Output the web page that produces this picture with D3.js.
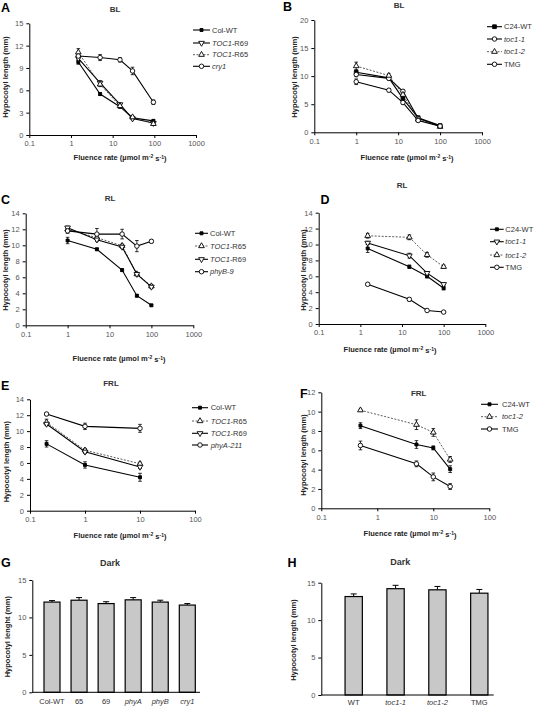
<!DOCTYPE html>
<html><head><meta charset="utf-8">
<script src="https://cdn.jsdelivr.net/npm/d3@7"></script>
<style>
body{margin:0;background:#fff}
svg{display:block;font-family:"Liberation Sans",Arial,Helvetica,sans-serif}
</style>
</head><body>
<svg id="c" width="544" height="708"></svg>
<script>
// ---------------- DATA ----------------
// Panel A: BL, Col background
const aX = [1.5, 5, 15, 30, 95];
const aColWT = [9.8, 5.5, 3.8, 2.3, 1.9];
const aR69 = [10.3, 7.0, 4.1, 2.2, 1.6];
const aR65 = [11.1, 6.8, 3.9, 2.4, 1.5];
const aCry1 = [10.6, 10.4, 10.1, 8.6, 4.4];
const aErrColWT = [0.3, 0.2, 0.2, 0.15, 0.15];
const aErrR69 = [0.3, 0.3, 0.2, 0.15, 0.15];
const aErrR65 = [0.5, 0.3, 0.2, 0.15, 0.15];
const aErrCry1 = [0.3, 0.4, 0.3, 0.5, 0.3];

// Panel B: BL, C24 background
const bX = [1, 6, 13, 30, 100];
const bC24WT = [10.7, 9.7, 6.0, 2.6, 1.2];
const bToc11 = [10.3, 9.6, 7.3, 2.5, 1.1];
const bToc12 = [11.8, 10.1, 6.7, 2.3, 1.0];
const bTMG = [9.0, 7.5, 5.3, 2.1, 1.1];
const bErrC24WT = [0.4, 0.3, 0.3, 0.2, 0.1];
const bErrToc11 = [0.4, 0.3, 0.3, 0.2, 0.1];
const bErrToc12 = [0.7, 0.3, 0.3, 0.2, 0.1];
const bErrTMG = [0.5, 0.3, 0.3, 0.2, 0.1];

// Panel C: RL, Col background
const cX = [1, 5, 20, 45, 100];
const cColWT = [10.6, 9.5, 6.9, 3.7, 2.5];
const cR65 = [12.0, 10.95, 9.95, 6.4, 4.9];
const cR69 = [12.2, 10.7, 9.8, 6.4, 4.8];
const cPhyB9 = [11.8, 11.4, 11.4, 9.9, 10.5];
const cErrColWT = [0.4, 0.15, 0.15, 0.15, 0.1];
const cErrR65 = [0.3, 0.2, 0.2, 0.2, 0.2];
const cErrR69 = [0.2, 0.2, 0.2, 0.2, 0.2];
const cErrPhyB9 = [0.3, 0.7, 0.6, 0.7, 0.2];

// Panel D: RL, C24 background
const dX = [1.5, 15, 40, 100];
const dC24WT = [9.5, 7.2, 6.0, 4.5];
const dToc11 = [10.2, 8.6, 6.4, 5.0];
const dToc12 = [11.1, 10.9, 8.7, 7.2];
const dTMG = [5.0, 3.1, 1.7, 1.5];
const dErrC24WT = [0.5, 0.2, 0.2, 0.2];
const dErrToc11 = [0.2, 0.3, 0.2, 0.2];
const dErrToc12 = [0.3, 0.3, 0.3, 0.2];
const dErrTMG = [0.15, 0.2, 0.15, 0.1];

// Panel E: FRL, Col background
const eX = [0.2, 1, 10];
const eColWT = [8.4, 5.75, 4.2];
const eR65 = [11.1, 7.6, 5.9];
const eR69 = [10.9, 7.4, 5.5];
const ePhyA211 = [12.15, 10.6, 10.35];
const eErrColWT = [0.4, 0.4, 0.5];
const eErrR65 = [0.4, 0.2, 0.2];
const eErrR69 = [0.2, 0.2, 0.2];
const eErrPhyA211 = [0.2, 0.4, 0.5];

// Panel F: FRL, C24 background
const fX = [0.5, 5, 10, 20];
const fC24WT = [8.55, 6.6, 6.25, 4.05];
const fToc12 = [10.15, 8.65, 7.85, 5.05];
const fTMG = [6.5, 4.6, 3.25, 2.25];
const fErrC24WT = [0.3, 0.4, 0.2, 0.35];
const fErrToc12 = [0.1, 0.5, 0.4, 0.3];
const fErrTMG = [0.45, 0.3, 0.4, 0.3];

// Panel G: Dark, Col background
const gCats = ["Col-WT", "65", "69", "*phyA*", "*phyB*", "*cry1*"];
const gVals = [12.05, 12.3, 11.85, 12.35, 12.05, 11.65];
const gErr = [0.2, 0.35, 0.25, 0.3, 0.25, 0.2];

// Panel H: Dark, C24 background
const hCats = ["WT", "*toc1-1*", "*toc1-2*", "TMG"];
const hVals = [13.15, 14.2, 14.05, 13.6];
const hErr = [0.35, 0.45, 0.45, 0.5];

// Tick labels
const xTicksWide = [0.1, 1, 10, 100, 1000];
const xTicksNarrow = [0.1, 1, 10, 100];
const yTicks15by3 = [0, 3, 6, 9, 12, 15];
const yTicks20by5 = [0, 5, 10, 15, 20];
const yTicks14by2 = [0, 2, 4, 6, 8, 10, 12, 14];
const yTicks12by2 = [0, 2, 4, 6, 8, 10, 12];
const yTicks15by5 = [0, 5, 10, 15];

// ---------------- DRAWING ----------------
const svg = d3.select("#c");
const TICK_COL = "#555";
const LAB_COL = "#222";

function rich(sel, str) {
  str.split("*").forEach((p, i) => {
    if (!p) return;
    sel.append("tspan").text(p).attr("font-style", i % 2 ? "italic" : "normal");
  });
}

const sym = {
  filled: {type: d3.symbolSquare, size: 9, fill: "#000", rot: 0},
  filledBig: {type: d3.symbolSquare, size: 14, fill: "#000", rot: 0},
  up: {type: d3.symbolTriangle, size: 14, fill: "#fff", rot: 0},
  down: {type: d3.symbolTriangle, size: 14, fill: "#fff", rot: 180},
  circle: {type: d3.symbolCircle, size: 16, fill: "#fff", rot: 0}
};

function drawMarker(g, kind, cx, cy) {
  const s = sym[kind];
  g.append("path")
    .attr("d", d3.symbol().type(s.type).size(s.size)())
    .attr("transform", `translate(${cx},${cy}) rotate(${s.rot})`)
    .attr("fill", s.fill).attr("stroke", "#000").attr("stroke-width", 0.9);
}

function styleAxis(a) {
  a.select(".domain").attr("stroke", "#000").attr("stroke-width", 1);
  a.selectAll(".tick line").attr("stroke", "#000");
  a.selectAll(".tick text").attr("fill", TICK_COL).attr("font-size", 7.5)
    .attr("font-family", "'Liberation Sans',Arial,sans-serif");
}

function panelText(p) {
  svg.append("text").attr("x", p.letterX).attr("y", p.letterY)
    .attr("font-size", 12.5).attr("font-weight", "bold").attr("fill", "#000").text(p.letter);
  svg.append("text").attr("x", p.titleX).attr("y", p.titleY).attr("text-anchor", "middle")
    .attr("dy", "0.35em").attr("font-size", p.titleSize || 8).attr("font-weight", "bold")
    .attr("fill", "#333").text(p.title);
  svg.append("text").attr("transform", `translate(${p.yLabX},${p.yLabY}) rotate(-90)`)
    .attr("text-anchor", "middle").attr("dy", "0.35em").attr("font-size", 7.5)
    .attr("font-weight", "bold").attr("fill", LAB_COL).text(p.yLab);
  if (p.xLabX != null) {
    const t = svg.append("text").attr("x", p.xLabX).attr("y", p.xLabY).attr("text-anchor", "middle")
      .attr("dy", "0.35em").attr("font-size", 7.5).attr("font-weight", "bold").attr("fill", LAB_COL);
    t.append("tspan").text("Fluence rate (µmol m");
    t.append("tspan").text("-2").attr("font-size", 5).attr("dy", "-0.35em");
    t.append("tspan").text(" s").attr("dy", "0.35em");
    t.append("tspan").text("-1").attr("font-size", 5).attr("dy", "-0.35em");
    t.append("tspan").text(")").attr("dy", "0.35em");
  }
}

function linePanel(p) {
  const x = d3.scaleLog().domain(p.xDomain).range([p.x0, p.x1]);
  const y = d3.scaleLinear().domain([0, p.yMax]).range([p.y0, p.y1]);
  const g = svg.append("g");
  const ax = g.append("g").attr("transform", `translate(0,${p.y0})`)
    .call(d3.axisBottom(x).tickValues(p.xTicks).tickFormat(d => String(d)).tickSize(3).tickSizeOuter(0).tickPadding(3));
  styleAxis(ax);
  const ay = g.append("g").attr("transform", `translate(${p.x0},0)`)
    .call(d3.axisLeft(y).tickValues(p.yTicks).tickSize(3).tickSizeOuter(0).tickPadding(3));
  styleAxis(ay);

  const line = d3.line().x(d => x(d[0])).y(d => y(d[1]));
  p.series.forEach(s => {
    const pts = s.xs.map((xv, i) => [xv, s.vals[i], s.err[i]]);
    g.append("path").datum(pts).attr("d", line).attr("fill", "none")
      .attr("stroke", s.dash ? "#333" : "#000").attr("stroke-width", s.dash ? 0.8 : 1.1)
      .attr("stroke-dasharray", s.dash ? "2,1.5" : null);
    pts.forEach(d => {
      const cx = x(d[0]);
      g.append("line").attr("x1", cx).attr("x2", cx).attr("y1", y(d[1] - d[2])).attr("y2", y(d[1] + d[2]))
        .attr("stroke", "#000").attr("stroke-width", 0.8);
      [d[1] - d[2], d[1] + d[2]].forEach(v => {
        g.append("line").attr("x1", cx - 1.8).attr("x2", cx + 1.8).attr("y1", y(v)).attr("y2", y(v))
          .attr("stroke", "#000").attr("stroke-width", 0.8);
      });
    });
  });
  p.series.forEach(s => {
    s.xs.forEach((xv, i) => drawMarker(g, s.marker, x(xv), y(s.vals[i])));
  });
  p.series.forEach((s, i) => {
    const ry = p.legY[i];
    g.append("line").attr("x1", p.legX0).attr("x2", p.legX1).attr("y1", ry).attr("y2", ry)
      .attr("stroke", s.dash ? "#333" : "#000").attr("stroke-width", s.dash ? 0.8 : 1.1)
      .attr("stroke-dasharray", s.dash ? "2,1.5" : null);
    drawMarker(g, s.marker, (p.legX0 + p.legX1) / 2, ry);
    const t = g.append("text").attr("x", p.legTX).attr("y", ry).attr("dy", "0.35em")
      .attr("font-size", 7.5).attr("fill", "#333");
    rich(t, s.name);
  });
  panelText(p);
}

function barPanel(p) {
  const x = d3.scalePoint().domain(p.cats).range([p.c0, p.c1]);
  const y = d3.scaleLinear().domain([0, 15]).range([p.y0, p.y1]);
  const g = svg.append("g");
  p.cats.forEach((c, i) => {
    const cx = x(c), v = p.vals[i], e = p.err[i];
    g.append("line").attr("x1", cx).attr("x2", cx).attr("y1", y(v)).attr("y2", y(v + e))
      .attr("stroke", "#000").attr("stroke-width", 1);
    g.append("line").attr("x1", cx - 3).attr("x2", cx + 3).attr("y1", y(v + e)).attr("y2", y(v + e))
      .attr("stroke", "#000").attr("stroke-width", 1);
    g.append("rect").attr("x", cx - p.bw / 2).attr("y", y(v)).attr("width", p.bw).attr("height", y(0) - y(v))
      .attr("fill", "#c8c8c8").attr("stroke", "#000").attr("stroke-width", 1.2);
    const t = g.append("text").attr("x", cx).attr("y", p.y0 + p.labOff).attr("text-anchor", "middle")
      .attr("dy", "0.35em").attr("font-size", 7.5).attr("fill", "#333");
    rich(t, c);
  });
  g.append("line").attr("x1", p.x0).attr("x2", p.x1).attr("y1", p.y0).attr("y2", p.y0)
    .attr("stroke", "#000").attr("stroke-width", 1);
  const ay = g.append("g").attr("transform", `translate(${p.x0},0)`)
    .call(d3.axisLeft(y).tickValues(yTicks15by5).tickSize(3).tickSizeOuter(0).tickPadding(3));
  styleAxis(ay);
  panelText(p);
}

const mk = (name, xs, vals, err, marker, dash) => ({name, xs, vals, err, marker, dash});

// A
linePanel({
  x0: 29.3, x1: 196, y0: 135, y1: 23.3, xDomain: [0.1, 1000], yMax: 15,
  xTicks: xTicksWide, yTicks: yTicks15by3,
  series: [
    mk("Col-WT", aX, aColWT, aErrColWT, "filled", false),
    mk("*TOC1*-R69", aX, aR69, aErrR69, "down", false),
    mk("*TOC1*-R65", aX, aR65, aErrR65, "up", true),
    mk("*cry1*", aX, aCry1, aErrCry1, "circle", false)
  ],
  legX0: 193, legX1: 210, legTX: 212, legY: [30, 43, 54.7, 66.3],
  letter: "A", letterX: 1, letterY: 12, title: "BL", titleX: 115, titleY: 9,
  yLab: "Hypocotyl length (mm)", yLabX: 5, yLabY: 77, xLabX: 120, xLabY: 157
});

// B
linePanel({
  x0: 314.3, x1: 482, y0: 132.3, y1: 20, xDomain: [0.1, 1000], yMax: 20,
  xTicks: xTicksWide, yTicks: yTicks20by5,
  series: [
    mk("C24-WT", bX, bC24WT, bErrC24WT, "filledBig", false),
    mk("*toc1-1*", bX, bToc11, bErrToc11, "circle", false),
    mk("*toc1-2*", bX, bToc12, bErrToc12, "up", true),
    mk("TMG", bX, bTMG, bErrTMG, "circle", false)
  ],
  legX0: 487, legX1: 502, legTX: 504, legY: [26.7, 39, 51.7, 64.3],
  letter: "B", letterX: 283, letterY: 11, title: "BL", titleX: 399, titleY: 5,
  yLab: "Hypocotyl length (mm)", yLabX: 294, yLabY: 77, xLabX: 407, xLabY: 157
});

// C
linePanel({
  x0: 25.7, x1: 193.3, y0: 325.3, y1: 213.3, xDomain: [0.1, 1000], yMax: 14,
  xTicks: xTicksWide, yTicks: yTicks14by2,
  series: [
    mk("Col-WT", cX, cColWT, cErrColWT, "filled", false),
    mk("*TOC1*-R65", cX, cR65, cErrR65, "up", true),
    mk("*TOC1*-R69", cX, cR69, cErrR69, "down", false),
    mk("*phyB-9*", cX, cPhyB9, cErrPhyB9, "circle", false)
  ],
  legX0: 195, legX1: 208, legTX: 210, legY: [233.3, 246, 259.3, 271.7],
  letter: "C", letterX: 1, letterY: 203.5, title: "RL", titleX: 110, titleY: 198.3,
  yLab: "Hypocotyl length (mm)", yLabX: 5, yLabY: 270, xLabX: 119, xLabY: 358
});

// D
linePanel({
  x0: 318.7, x1: 485.3, y0: 324, y1: 212.7, xDomain: [0.1, 1000], yMax: 14,
  xTicks: xTicksWide, yTicks: yTicks14by2,
  series: [
    mk("C24-WT", dX, dC24WT, dErrC24WT, "filled", false),
    mk("*toc1-1*", dX, dToc11, dErrToc11, "down", false),
    mk("*toc1-2*", dX, dToc12, dErrToc12, "up", true),
    mk("TMG", dX, dTMG, dErrTMG, "circle", false)
  ],
  legX0: 490, legX1: 503.7, legTX: 505.3, legY: [229.3, 241.7, 255, 267.3],
  letter: "D", letterX: 320.5, letterY: 203.5, title: "RL", titleX: 402, titleY: 185,
  yLab: "Hypocotyl length (mm)", yLabX: 303.7, yLabY: 270, xLabX: 390, xLabY: 349
});

// E
linePanel({
  x0: 30, x1: 195, y0: 510.7, y1: 399.3, xDomain: [0.1, 100], yMax: 14,
  xTicks: xTicksNarrow, yTicks: yTicks14by2,
  series: [
    mk("Col-WT", eX, eColWT, eErrColWT, "filled", false),
    mk("*TOC1*-R65", eX, eR65, eErrR65, "up", true),
    mk("*TOC1*-R69", eX, eR69, eErrR69, "down", false),
    mk("*phyA-211*", eX, ePhyA211, eErrPhyA211, "circle", false)
  ],
  legX0: 192, legX1: 208, legTX: 210.7, legY: [407.7, 421, 433.3, 445],
  letter: "E", letterX: 1, letterY: 389.5, title: "FRL", titleX: 111, titleY: 383,
  yLab: "Hypocotyl length (mm)", yLabX: 6.7, yLabY: 461.7, xLabX: 120, xLabY: 535
});

// F
linePanel({
  x0: 321.3, x1: 489.3, y0: 508.3, y1: 392.3, xDomain: [0.1, 100], yMax: 12,
  xTicks: xTicksNarrow, yTicks: yTicks12by2,
  series: [
    mk("C24-WT", fX, fC24WT, fErrC24WT, "filled", false),
    mk("*toc1-2*", fX, fToc12, fErrToc12, "up", true),
    mk("TMG", fX, fTMG, fErrTMG, "circle", false)
  ],
  legX0: 481, legX1: 498, legTX: 502, legY: [404.3, 416.7, 429],
  letter: "F", letterX: 300, letterY: 397.5, title: "FRL", titleX: 418.7, titleY: 393.3,
  yLab: "Hypocotyl length (mm)", yLabX: 303.7, yLabY: 455, xLabX: 410, xLabY: 533.3
});

// G
barPanel({
  cats: gCats, vals: gVals, err: gErr, c0: 52, c1: 187.3, bw: 16, labOff: 9.2,
  x0: 32.3, x1: 200, y0: 692.3, y1: 580,
  letter: "G", letterX: 1, letterY: 567, title: "Dark", titleX: 110, titleY: 563.3, titleSize: 9,
  yLab: "Hypocotyl lenght (mm)", yLabX: 7.3, yLabY: 636.7, xLabX: null
});

// H
barPanel({
  cats: hCats, vals: hVals, err: hErr, c0: 353.7, c1: 479.3, bw: 17.3, labOff: 7.8,
  x0: 321.3, x1: 493.7, y0: 695, y1: 582.7,
  letter: "H", letterX: 287.5, letterY: 567, title: "Dark", titleX: 400.3, titleY: 561.7, titleSize: 9,
  yLab: "Hypocotyl length (mm)", yLabX: 293.7, yLabY: 640, xLabX: null
});
</script>
</body></html>
